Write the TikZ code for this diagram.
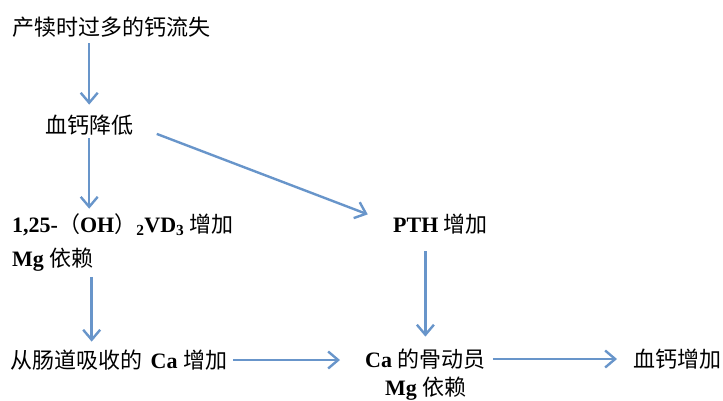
\documentclass[tikz,border=0pt]{standalone}
\usepackage{fontspec}
\setmainfont{Liberation Serif}
\newfontfamily\cjk{Noto Sans CJK SC}
\usetikzlibrary{arrows.meta}
\definecolor{arrowblue}{RGB}{104,149,202}
\newcommand{\zh}[1]{{\cjk #1}}
\newcommand{\la}[1]{{\bfseries #1}}

\begin{document}
\begin{tikzpicture}[x=1pt, y=-1pt, font=\fontsize{22}{26}\selectfont,
    txt/.style={anchor=west, inner sep=0pt},
    arr/.style={draw=arrowblue, line width=2.4pt, -{Straight Barb[length=10pt, width=17pt]}}]
  \useasboundingbox (0,0) rectangle (723,400);
  \node (loss) [txt] at (12,27) {\zh{产犊时过多的钙流失}};
  \node (low) [txt] at (45,125) {\zh{血钙降低}};
  \node (vd) [txt] at (12,225) {\la{1,25-}\zh{（}\la{OH}\zh{）}\la{\textsubscript{2}VD\textsubscript{3}} \zh{增加}};
  \node (mgvd) [txt] at (12,260) {\la{Mg} \zh{依赖}};
  \node (pth) [txt] at (393,224) {\la{PTH} \zh{增加}};
  \node (gut) [txt] at (10,360) {\zh{从肠道吸收的}\hspace{3pt} \la{Ca} \zh{增加}};
  \node (bone) [txt] at (365,359) {\la{Ca} \zh{的骨动员}};
  \node (high) [txt] at (633,359) {\zh{血钙增加}};
  \node (mgbone) [txt] at (385,389) {\la{Mg} \zh{依赖}};
  \draw [arr, shorten <=6pt, shorten >=10pt] (loss.south -| low) -- (low.north);
  \draw [arr, shorten <=3pt, shorten >=5pt] (low.south) -- (low.south |- vd.north);
  \draw [arr, shorten <=25pt, shorten >=27pt] (low.east) -- (pth.west);
  \draw [arr, shorten <=5pt, shorten >=8pt] ([xshift=-2pt]mgvd.south east) -- ([xshift=-2pt]mgvd.south east |- gut.north);
  \draw [arr, shorten <=17pt, shorten >=12pt] (bone.north |- pth.south) -- (bone.north);
  \draw [arr, shorten <=6pt, shorten >=25pt] (gut.east) -- (bone.west |- gut.east);
  \draw [arr, shorten <=7pt, shorten >=16pt] (bone.east) -- (high.west);
\end{tikzpicture}
\end{document}
